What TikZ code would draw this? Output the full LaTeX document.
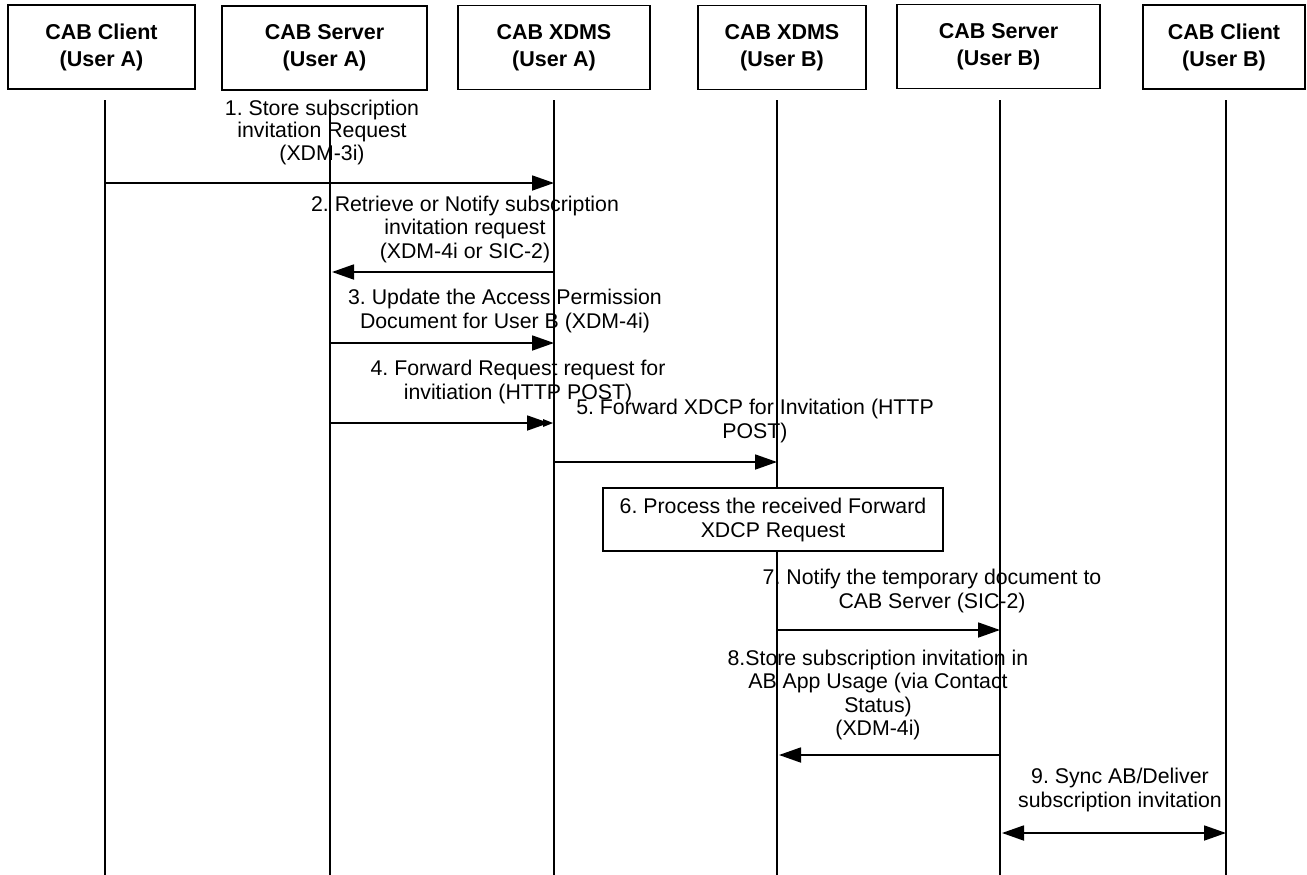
\documentclass[tikz,border=0pt]{standalone}
\usepackage{fontspec}
\setmainfont{Liberation Sans}
\usetikzlibrary{arrows.meta}
\frenchspacing
\begin{document}
\begin{tikzpicture}[x=1pt,y=-1pt,
  hdr/.style={draw, line width=1.3pt, minimum height=84pt, inner sep=0pt, align=center, font=\frenchspacing\fontsize{21.5}{27}\selectfont\bfseries},
  life/.style={line width=1.3pt},
  msg/.style={line width=1.8pt, -{Triangle[length=22pt,width=15pt]}},
  dmsg/.style={line width=1.8pt, {Triangle[length=22pt,width=15pt]}-{Triangle[length=22pt,width=15pt]}},
  lbl/.style={align=center, inner sep=0pt, font=\frenchspacing\fontsize{21.3}{23.5}\selectfont},
  procbox/.style={draw, line width=1.3pt, fill=white, align=center, inner sep=0pt, font=\frenchspacing\fontsize{21.3}{24}\selectfont},
]
\useasboundingbox (0,0) rectangle (1307,875);

% headers
\node[hdr, minimum width=187pt] (h1) at (101.5,47) {CAB Client\\(User A)};
\node[hdr, minimum width=205pt] (h2) at (324.5,48) {CAB Server\\(User A)};
\node[hdr, minimum width=192pt] (h3) at (554,47.5) {CAB XDMS\\(User A)};
\node[hdr, minimum width=168pt] (h4) at (782,47.5) {CAB XDMS\\(User B)};
\node[hdr, minimum width=203pt] (h5) at (998.5,46.5) {CAB Server\\(User B)};
\node[hdr, minimum width=162pt] (h6) at (1224,47) {CAB Client\\(User B)};

% lifelines
\coordinate (t1) at (105,100);  \coordinate (b1) at (105,875);
\coordinate (t2) at (330,100);  \coordinate (b2) at (330,875);
\coordinate (t3) at (554,100);  \coordinate (b3) at (554,875);
\coordinate (t4) at (777,100);  \coordinate (b4) at (777,875);
\coordinate (t5) at (1000,100); \coordinate (b5) at (1000,875);
\coordinate (t6) at (1226,100); \coordinate (b6) at (1226,875);
\foreach \i in {1,...,6} { \draw[life] (t\i) -- (b\i); }

% message 1
\node[lbl, font=\frenchspacing\fontsize{21.3}{22.5}\selectfont] (L1) at (322,132) {1. Store subscription\\invitation Request\\(XDM-3i)};
\coordinate (m1a) at (105,183); \coordinate (m1b) at (554,183);
\draw[msg] (m1a) -- (m1b);

% message 2
\node[lbl] (L2) at (465,229) {2. Retrieve or Notify subscription\\invitation request\\(XDM-4i or SIC-2)};
\coordinate (m2a) at (554,272); \coordinate (m2b) at (332,272);
\draw[msg] (m2a) -- (m2b);

% message 3
\node[lbl] (L3) at (505,311) {3. Update the Access Permission\\Document for User B (XDM-4i)};
\coordinate (m3a) at (330,343); \coordinate (m3b) at (554,343);
\draw[msg] (m3a) -- (m3b);

% message 4
\node[lbl] (L4) at (518,382) {4. Forward Request request for\\invitiation (HTTP POST)};
\coordinate (m4a) at (330,423); \coordinate (m4b) at (549,423);
\draw[msg] (m4a) -- (m4b);
\fill (543,419) -- (553,423) -- (543,427) -- cycle;

% message 5
\node[lbl] (L5) at (755,421) {5. Forward XDCP for Invitation (HTTP\\POST)};
\coordinate (m5a) at (554,462); \coordinate (m5b) at (777,462);
\draw[msg] (m5a) -- (m5b);

% step 6
\node[procbox, minimum width=340pt, minimum height=63pt] (p6) at (773,519.5) {6. Process the received Forward\\XDCP Request};

% message 7
\node[lbl] (L7) at (932,591) {7. Notify the temporary document to\\CAB Server (SIC-2)};
\coordinate (m7a) at (777,630); \coordinate (m7b) at (1000,630);
\draw[msg] (m7a) -- (m7b);

% message 8
\node[lbl] (L8) at (878,695) {8.Store subscription invitation in\\AB App Usage (via Contact\\Status)\\(XDM-4i)};
\coordinate (m8a) at (1000,755); \coordinate (m8b) at (779,755);
\draw[msg] (m8a) -- (m8b);

% message 9
\node[lbl] (L9) at (1120,790) {9. Sync AB/Deliver\\subscription invitation};
\coordinate (m9a) at (1002,833); \coordinate (m9b) at (1226,833);
\draw[dmsg] (m9a) -- (m9b);
\end{tikzpicture}
\end{document}
